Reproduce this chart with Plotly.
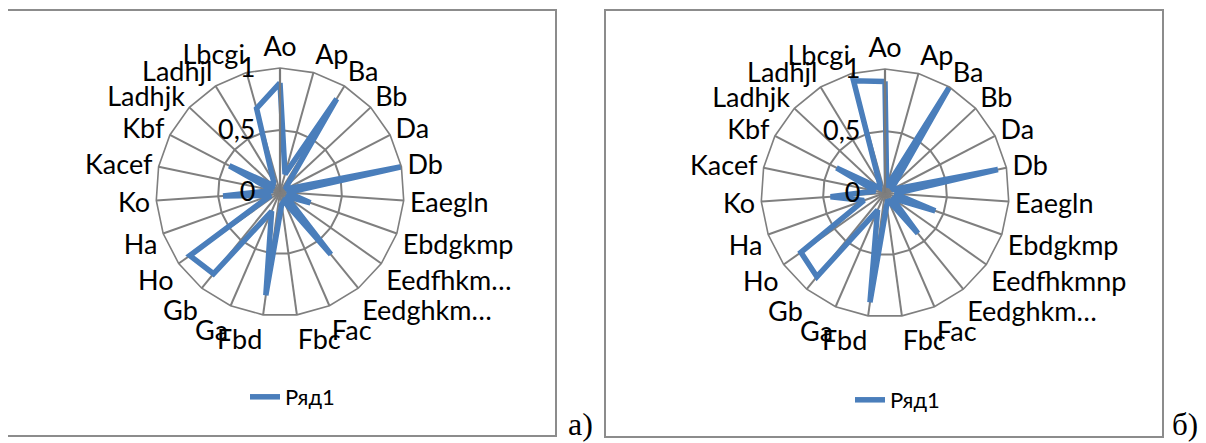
import plotly.graph_objects as go

# Browser body margin (8 px) shifts the figure; work in reference pixels and offset.
OFF = 8
W, H = 1206 - OFF, 443 - OFF

categories = ["Ao", "Ap", "Ba", "Bb", "Da", "Db", "Eaegln", "Ebdgkmp", "Eedfhkmnp",
              "Eedghkm…", "Fac", "Fbc", "Fbd", "Ga", "Gb", "Ho", "Ha", "Ko",
              "Kacef", "Kbf", "Ladhjk", "Ladhjl", "Lbcgi"]
labels_a = ["Ao", "Ap", "Ba", "Bb", "Da", "Db", "Eaegln", "Ebdgkmp", "Eedfhkm…",
            "Eedghkm…", "Fac", "Fbc", "Fbd", "Ga", "Gb", "Ho", "Ha", "Ko",
            "Kacef", "Kbf", "Ladhjk", "Ladhjl", "Lbcgi"]
labels_b = ["Ao", "Ap", "Ba", "Bb", "Da", "Db", "Eaegln", "Ebdgkmp", "Eedfhkmnp",
            "Eedghkm…", "Fac", "Fbc", "Fbd", "Ga", "Gb", "Ho", "Ha", "Ko",
            "Kacef", "Kbf", "Ladhjk", "Ladhjl", "Lbcgi"]

values_a = [0.88, 0.15, 0.88, 0.08, 0.05, 1.00, 0.06, 0.26, 0.06, 0.65, 0.08, 0.10,
            0.84, 0.17, 0.85, 0.89, 0.08, 0.46, 0.06, 0.46, 0.08, 0.10, 0.70]
values_b = [0.90, 0.05, 1.00, 0.10, 0.06, 0.93, 0.08, 0.43, 0.07, 0.42, 0.06, 0.10,
            0.89, 0.15, 0.87, 0.83, 0.18, 0.44, 0.08, 0.44, 0.06, 0.08, 0.94]

series_name = "Ряд1"
radial_ticks = [0, 0.5, 1]
radial_ticktext = ["0", "0,5", "1"]

LINE = "#4A7EBB"
GRID = "#7F7F7F"
FONT = "Lato"


def px_x(v):
    return (v - OFF) / W


def px_y(v):
    return 1 - (v - OFF) / H


fig = go.Figure()

for vals, polar, leg in [(values_a, "polar", "legend"),
                         (values_b, "polar2", "legend2")]:
    fig.add_trace(go.Scatterpolar(
        r=vals + vals[:1],
        theta=categories + categories[:1],
        mode="lines",
        line=dict(color=LINE, width=5.5),
        name=series_name,
        subplot=polar,
        legend=leg,
        showlegend=True,
    ))


def polar_layout(cx, cy, R, labels):
    return dict(
        domain=dict(x=[px_x(cx - R), px_x(cx + R)], y=[px_y(cy + R), px_y(cy - R)]),
        bgcolor="white",
        gridshape="linear",
        angularaxis=dict(
            type="category",
            categoryorder="array",
            categoryarray=categories,
            tickmode="array",
            tickvals=categories,
            ticktext=labels,
            direction="clockwise",
            rotation=90,
            showline=True,
            linecolor=GRID,
            linewidth=1.6,
            gridcolor=GRID,
            gridwidth=1.5,
            ticks="",
            tickfont=dict(family=FONT, size=27, color="black"),
        ),
        radialaxis=dict(
            range=[0, 1],
            angle=90,
            tickangle=90,
            side="counterclockwise",
            tickmode="array",
            tickvals=radial_ticks,
            ticktext=radial_ticktext,
            showline=True,
            linecolor="#7A7A7A",
            linewidth=2.2,
            gridcolor=GRID,
            gridwidth=1.5,
            ticks="outside",
            ticklen=14,
            tickcolor="rgba(0,0,0,0)",
            tickfont=dict(family=FONT, size=27, color="black"),
            layer="above traces",
        ),
    )


boxes = [(5, 10, 556, 436), (605, 10, 1163, 437)]
shapes = []
for x0, y0, x1, y1 in boxes:
    shapes.append(dict(type="rect", xref="paper", yref="paper",
                       x0=px_x(x0), x1=px_x(x1), y0=px_y(y1), y1=px_y(y0),
                       line=dict(color="#8C8C8C", width=2), fillcolor="rgba(0,0,0,0)",
                       layer="below"))

fig.update_layout(
    width=W, height=H,
    margin=dict(l=0, r=0, t=0, b=0),
    paper_bgcolor="white",
    plot_bgcolor="white",
    polar=polar_layout(280, 192, 124, labels_a),
    polar2=polar_layout(885, 193, 124, labels_b),
    legend=dict(x=px_x(245), y=px_y(397), xanchor="left", yanchor="middle",
                font=dict(family=FONT, size=22, color="black"),
                bgcolor="rgba(0,0,0,0)", borderwidth=0),
    legend2=dict(x=px_x(850), y=px_y(400), xanchor="left", yanchor="middle",
                 font=dict(family=FONT, size=22, color="black"),
                 bgcolor="rgba(0,0,0,0)", borderwidth=0),
    shapes=shapes,
    annotations=[
        dict(text="а)", x=px_x(580), y=px_y(424), xref="paper", yref="paper",
             xanchor="center", yanchor="middle", showarrow=False,
             font=dict(family="Liberation Serif", size=32, color="black")),
        dict(text="б)", x=px_x(1185), y=px_y(424), xref="paper", yref="paper",
             xanchor="center", yanchor="middle", showarrow=False,
             font=dict(family="Liberation Serif", size=31, color="black")),
    ],
)

fig.write_html("out.html")
